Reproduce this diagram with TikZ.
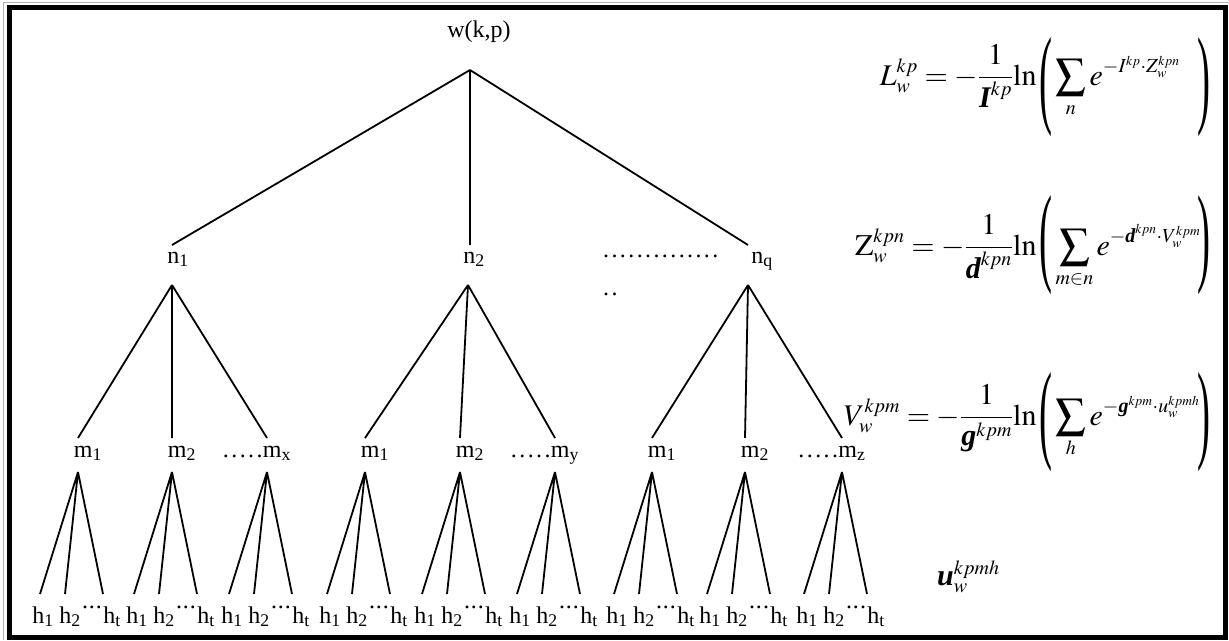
\documentclass[tikz,border=0pt]{standalone}
\usepackage{graphicx}
\usepackage{mathptmx}
\usepackage{amsmath}
\usepackage[no-math]{fontspec}
\setmainfont{Liberation Serif}
\DeclareMathSizes{30}{30}{20}{13.5}
\newcommand\dd{.\kern2.4pt}
\newcommand\lpar[1]{\raisebox{#1}{\scalebox{1.3}[3.65]{(}}}
\newcommand\rpar[1]{\raisebox{#1}{\scalebox{1.3}[3.65]{)}}}
\newcommand\bi[1]{\text{\bfseries\itshape #1}}
\tikzset{
  lbl/.style={font=\fontsize{24}{28}\selectfont, inner sep=0pt, anchor=base},
  eqn/.style={font=\fontsize{30}{36}\selectfont, inner sep=0pt, anchor=base west},
  branch/.style={line width=1.8pt},
}
\begin{document}
\begin{tikzpicture}[x=1pt,y=-1pt]
\useasboundingbox (0,0) rectangle (1229,640);
% frame
\draw[gray!60, line width=1pt] (3.5,640) -- (3.5,2.5) -- (1229,2.5);
\draw[line width=5pt] (9.5,7.5) rectangle (1225,637);
% root
\node[lbl] (w) at (479,37) {w(k,p)};
\coordinate (R) at (470,70);
% level n
\coordinate (n1t) at (172,245);
\coordinate (n2t) at (470,245);
\coordinate (nqt) at (748,245);
\node[lbl] (n1) at (178,263) {n\textsubscript{1}};
\node[lbl] (n2) at (474,263) {n\textsubscript{2}};
\node[lbl] (nq) at (762,263) {n\textsubscript{q}};
\coordinate (n1b) at (172,285);
\coordinate (n2b) at (468,285);
\coordinate (nqb) at (748,285);
\draw[branch] (R) -- (n1t) (R) -- (n2t) (R) -- (nqt);
\node[lbl, anchor=base west] (dl1) at (603,257) {\dd\dd\dd\dd\dd\dd\dd\dd\dd\dd\dd\dd\dd.};
\node[lbl, anchor=base west] (dl2) at (603,295) {\dd.};
% level m
\foreach \x/\s [count=\i] in {78/1,172/2,267/x,365/1,460/2,555/y,652/1,745/2,842/z}{
  \coordinate (mt\i) at (\x,438);
  \coordinate (mb\i) at (\x,472);
  \node[lbl] (m\i) at (\x+10,457) {m\textsubscript{\s}};
  \coordinate (ha\i) at (\x-38,594);
  \coordinate (hb\i) at (\x-13,594);
  \coordinate (hc\i) at (\x+25,594);
  \draw[branch] (mb\i) -- (ha\i) (mb\i) -- (hb\i) (mb\i) -- (hc\i);
  \node[lbl] (hA\i) at (\x-35,623) {h\textsubscript{1}};
  \node[lbl] (hB\i) at (\x-8,623) {h\textsubscript{2}};
  \node[lbl] (hD\i) at (\x+14,608) {.\kern1pt.\kern1pt.};
  \node[lbl] (hC\i) at (\x+34,623) {h\textsubscript{t}};
}
\foreach \i in {3,6,9}{
  \node[lbl, anchor=base east] (md\i) at (m\i.base west) {\dd\dd\dd\dd.};
}
\draw[branch] (n1b) -- (mt1) (n1b) -- (mt2) (n1b) -- (mt3);
\draw[branch] (n2b) -- (mt4) (n2b) -- (mt5) (n2b) -- (mt6);
\draw[branch] (nqb) -- (mt7) (nqb) -- (mt8) (nqb) -- (mt9);
% equations
\node[eqn] (L) at (841,85) {\makebox[172pt][r]{$\displaystyle L_w^{kp} = -\frac{1}{\bi{I}^{kp}}$}$\ln$\kern3pt\lpar{-28pt}\kern3pt\makebox[142pt][l]{$\displaystyle\sum_n e^{-I^{kp}\cdot Z_w^{kpn}}$}\rpar{-28pt}};
\node[eqn] (Z) at (841,255) {\makebox[172pt][r]{$\displaystyle \mathrm{Z}_w^{kpn} = -\frac{1}{\bi{d}^{kpn}}$}$\ln$\kern3pt\lpar{-16pt}\kern3pt\makebox[142pt][l]{$\displaystyle\sum_{m\in n} e^{-\bi{d}^{kpn}\cdot V_w^{kpm}}$}\rpar{-16pt}};
\node[eqn] (V) at (841,425) {\makebox[172pt][r]{$\displaystyle V_w^{kpm} = -\frac{1}{\bi{g}^{kpm}}$}$\ln$\kern3pt\lpar{-23pt}\kern3pt\makebox[142pt][l]{$\displaystyle\sum_h e^{-\bi{g}^{kpm}\cdot u_w^{kpmh}}$}\rpar{-23pt}};
\node[eqn] (u) at (937,585) {$\bi{u}_w^{kpmh}$};
\end{tikzpicture}
\end{document}
